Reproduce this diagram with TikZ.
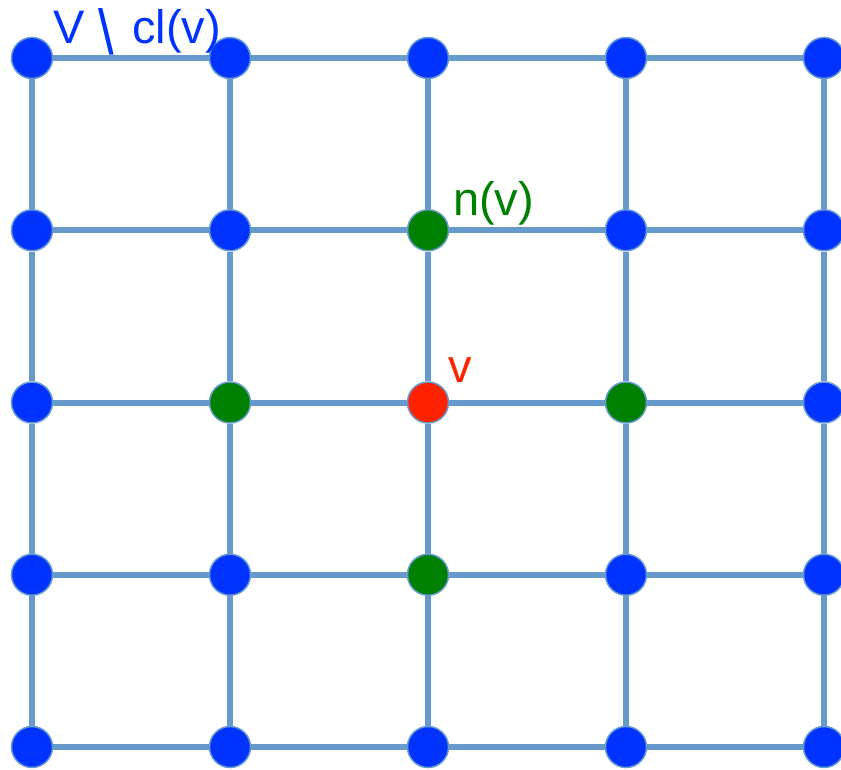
\documentclass[tikz,border=0pt]{standalone}
\usepackage{graphicx}
\usepackage{fontspec}
\setmainfont{Liberation Sans}

\definecolor{edgeblue}{RGB}{102,153,204}
\definecolor{vtxblue}{RGB}{0,51,255}
\definecolor{nbgreen}{RGB}{0,128,0}
\definecolor{vred}{RGB}{255,34,0}

\tikzset{
  vtx/.style={circle, draw=edgeblue, line width=1.5pt, fill=vtxblue, minimum size=41pt, inner sep=0pt},
  nbr/.style={vtx, fill=nbgreen},
  ctr/.style={vtx, fill=vred},
  edge/.style={edgeblue, line width=6pt},
  lbl/.style={font=\fontsize{47}{56}\selectfont, inner sep=0pt, anchor=base west},
  % the neighbours n(v) and the vertex v itself
  pt 3-2/.style={nbr}, pt 2-3/.style={nbr}, pt 4-3/.style={nbr}, pt 3-4/.style={nbr},
  pt 3-3/.style={ctr}
}
% a long set-minus, reaching below the base line
\newcommand{\longminus}{\raisebox{-11pt}{\scalebox{1.2}[1.35]{\textbackslash}}}

\begin{document}
\begin{tikzpicture}[x=1pt, y=-1pt]
  \useasboundingbox (0,0) rectangle (841,769);

  \foreach \i in {1,...,5} {
    \foreach \j in {1,...,5} {
      \node[vtx, pt \i-\j/.try] (p\i\j) at ({32+198*(\i-1)}, {58+172.25*(\j-1)}) {};
    }
  }

  % grid lines, node to node
  \foreach \i in {1,...,5} {
    \foreach \j [evaluate=\j as \k using int(\j+1)] in {1,...,4} {
      \draw[edge] (p\i\j) -- (p\i\k);
      \draw[edge] (p\j\i) -- (p\k\i);
    }
  }

  \node[lbl, vtxblue] (lblrest) at (53,43) {V\hspace{14pt}\longminus\hspace{18pt}cl(v)};
  \node[lbl, nbgreen] (lblnb) at (453,215) {n(v)};
  \node[lbl, vred] (lblv) at (448,382) {v};
\end{tikzpicture}
\end{document}
